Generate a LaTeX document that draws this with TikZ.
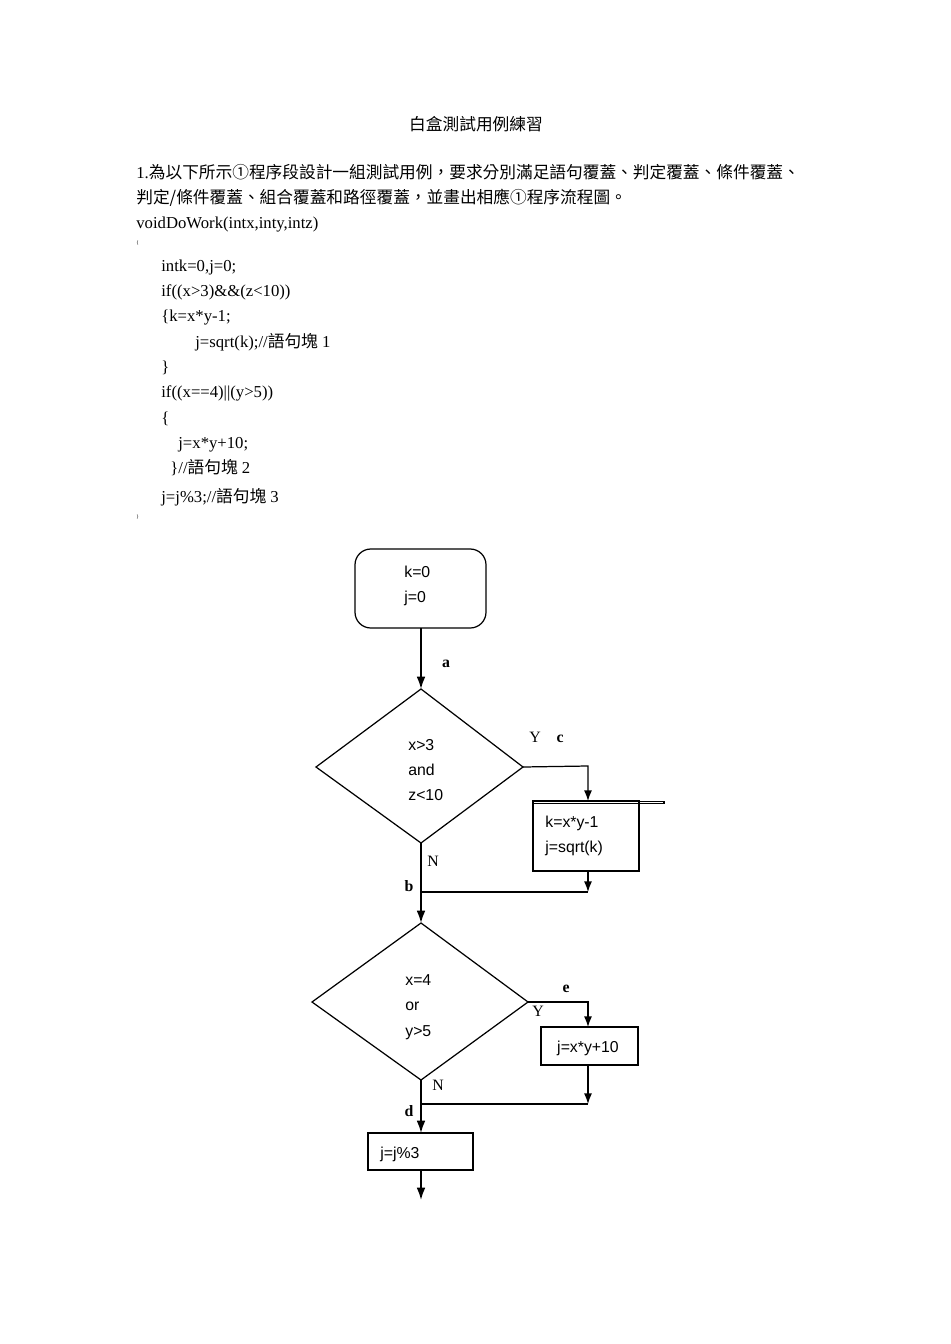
\documentclass[tikz,border=0pt]{standalone}
\usepackage{fontspec}
\setmainfont{Liberation Serif}
\setsansfont{Liberation Sans}
\newfontfamily\cjk{Noto Sans CJK TC}
\usetikzlibrary{arrows.meta}
\begin{document}
\begin{tikzpicture}[x=0.02cm,y=-0.02cm,
  txt/.style={anchor=base west,inner sep=0,font=\fontsize{9.5}{11}\selectfont},
  fc/.style={anchor=base west,inner sep=0,font=\sffamily\fontsize{9}{11}\selectfont},
  lbl/.style={anchor=base,inner sep=0,font=\bfseries\fontsize{9}{11}\selectfont},
  yn/.style={anchor=base,inner sep=0,font=\fontsize{9}{11}\selectfont},
  ln/.style={line width=0.7pt},
  arr/.style={line width=1pt,-{Latex[length=7pt,width=5pt]}},
  sarr/.style={line width=0.7pt,-{Latex[length=6pt,width=4.5pt]}},
  bx/.style={draw,line width=0.6pt,inner sep=0}]
\useasboundingbox[fill=white] (0,0) rectangle (950,1344);
% header text
\node[txt,anchor=base] (title) at (476,131) {\cjk 白盒測試用例練習};
\node[txt] (l1) at (136,179) {1.\cjk 為以下所示①程序段設計一組測試用例，要求分別滿足語句覆蓋、判定覆蓋、條件覆蓋、};
\node[txt] (l2) at (136,204) {\cjk 判定/條件覆蓋、組合覆蓋和路徑覆蓋，並畫出相應①程序流程圖。};
\node[txt] (l3) at (136,229) {voidDoWork(intx,inty,intz)};
\node[txt,font=\fontsize{3}{4}\selectfont] (l4) at (136,245) {\{};
\node[txt] (c1) at (161,272) {intk=0,j=0;};
\node[txt] (c2) at (161,297) {if((x>3)\&\&(z<10))};
\node[txt] (c3) at (161,322) {\{k=x*y-1;};
\node[txt] (c4) at (195,348) {j=sqrt(k);//{\cjk 語句塊} 1};
\node[txt] (c5) at (161,373) {\}};
\node[txt] (c6) at (161,398) {if((x==4)||(y>5))};
\node[txt] (c7) at (161,423) {\{};
\node[txt] (c8) at (178,448) {j=x*y+10;};
\node[txt] (c9) at (170,473) {\}//{\cjk 語句塊} 2};
\node[txt] (c10) at (161,502) {j=j\%3;//{\cjk 語句塊} 3};
\node[txt,font=\fontsize{3}{4}\selectfont] (l5) at (136,518) {\}};
% flowchart
\draw[ln,rounded corners=9pt] (355,549) rectangle (486,628);
\coordinate (sb) at (421,628);
\node[fc] (s1) at (404,577) {k=0};
\node[fc] (s2) at (404,602) {j=0};
\coordinate (d1t) at (421,689); \coordinate (d1l) at (316,767);
\coordinate (d1r) at (523,767); \coordinate (d1b) at (421,843);
\draw[ln] (d1t)--(d1r)--(d1b)--(d1l)--cycle;
\node[fc] (t1) at (408,750) {x>3};
\node[fc] (t2) at (408,775) {and};
\node[fc] (t3) at (408,800) {z<10};
\draw[arr] (sb)--(d1t);
\node[lbl] (a) at (446,667) {a};
\node[yn] (y1) at (535,742) {Y};
\node[lbl] (c) at (560,742) {c};
\node[draw,ln,minimum width=106\pgflinewidth,inner sep=0,anchor=north west] (b1) at (533,801) {};
\draw[ln] (533,801) rectangle (639,871);
\coordinate (b1t) at (588,801); \coordinate (b1b) at (588,871);
\node[fc] (k1) at (545,827) {k=x*y-1};
\node[fc] (k2) at (545,852) {j=sqrt(k)};
\coordinate (j1) at (588,892); \coordinate (m1) at (421,892);
\draw[sarr] (d1r)--(588,766)--(b1t);
\draw[sarr] (b1b)--(j1);
\draw[ln] (m1)--(j1);
\node[yn] (n1) at (433,866) {N};
\node[lbl] (b) at (409,891) {b};
\coordinate (d2t) at (421,923); \coordinate (d2l) at (312,1002);
\coordinate (d2r) at (528,1002); \coordinate (d2b) at (421,1080);
\draw[arr] (d1b)--(d2t);
\draw[ln] (d2t)--(d2r)--(d2b)--(d2l)--cycle;
\node[fc] (u1) at (405,985) {x=4};
\node[fc] (u2) at (405,1010) {or};
\node[fc] (u3) at (405,1036) {y>5};
\node[lbl] (e) at (566,992) {e};
\node[yn] (y2) at (538,1016) {Y};
\draw[ln] (541,1027) rectangle (638,1065);
\coordinate (b2t) at (588,1027); \coordinate (b2b) at (588,1065);
\node[fc,anchor=base] (w1) at (588,1052) {j=x*y+10};
\draw[sarr] (d2r)--(588,1002)--(b2t);
\coordinate (j2) at (588,1104); \coordinate (m2) at (421,1104);
\draw[sarr] (b2b)--(j2);
\draw[ln] (m2)--(j2);
\node[yn] (n2) at (438,1090) {N};
\node[lbl] (d) at (409,1116) {d};
\draw[ln] (368,1133) rectangle (473,1170);
\coordinate (b3t) at (421,1133); \coordinate (b3b) at (421,1170);
\node[fc] (v1) at (380,1158) {j=j\%3};
\draw[arr] (d2b)--(b3t);
\coordinate (end) at (421,1200);
\draw[arr] (b3b)--(end);
\end{tikzpicture}
\end{document}
